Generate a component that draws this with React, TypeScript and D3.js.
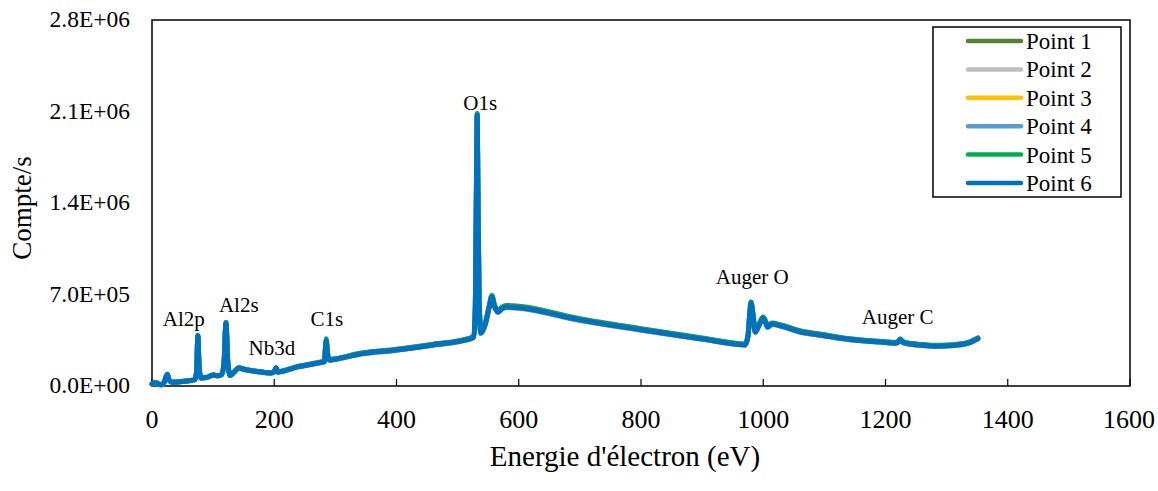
import React from "react";
import * as d3 from "d3";

// Binding energy (eV)
const energies = [
  0, 4, 8, 12, 16, 20, 25, 28, 33, 45,
  60, 70, 73, 75, 77, 80, 90, 100, 108, 114,
  118, 121, 124, 128, 135, 142, 150, 170, 195, 200,
  203, 206, 215, 240, 254, 270, 282, 285, 287, 290,
  300, 340, 400, 460, 520, 526, 529, 531, 532, 533,
  535, 538, 545, 552, 556, 560, 566, 572, 580, 600,
  700, 800, 900, 960, 970, 975, 978, 980, 983, 987,
  993, 1000, 1004, 1007, 1014, 1030, 1060, 1100, 1126, 1150,
  1200, 1215, 1220, 1224, 1228, 1235, 1260, 1280, 1310, 1335,
  1351,
];

// Counts per second, in thousands
const point1 = [
  16, 26, 23, 13, 11, 31, 90, 46, 29, 33,
  41, 49, 112, 388, 152, 63, 67, 86, 79, 89,
  192, 488, 182, 81, 111, 140, 130, 114, 102, 112,
  140, 108, 117, 151, 163, 178, 190, 350, 255, 203,
  209, 250, 281, 320, 367, 382, 610, 1665, 2075, 1595,
  712, 412, 478, 620, 692, 626, 576, 601, 616, 610,
  515, 439, 367, 324, 320, 386, 558, 642, 558, 420,
  472, 528, 493, 459, 482, 466, 423, 392, 372, 358,
  339, 334, 339, 360, 342, 331, 318, 311, 316, 334,
  368,
];
const point2 = [
  14, 24, 21, 11, 9, 29, 86, 44, 27, 31,
  39, 47, 108, 378, 148, 61, 65, 84, 77, 87,
  187, 476, 178, 79, 109, 136, 126, 110, 99, 108,
  136, 105, 113, 146, 158, 173, 184, 338, 247, 197,
  203, 242, 272, 311, 356, 371, 594, 1640, 2060, 1570,
  694, 401, 466, 605, 676, 610, 561, 585, 599, 593,
  500, 426, 357, 315, 311, 376, 545, 630, 545, 409,
  461, 516, 481, 447, 470, 454, 411, 382, 362, 349,
  330, 325, 330, 351, 333, 322, 309, 302, 307, 325,
  359,
];
const point3 = [
  15, 25, 22, 12, 10, 30, 87, 45, 28, 32,
  40, 48, 109, 380, 149, 62, 66, 85, 78, 88,
  189, 479, 179, 80, 110, 137, 127, 111, 100, 109,
  137, 106, 114, 147, 159, 174, 185, 341, 249, 198,
  204, 244, 274, 313, 358, 373, 597, 1645, 2065, 1575,
  697, 403, 468, 608, 679, 613, 564, 588, 602, 596,
  503, 428, 359, 317, 313, 378, 548, 633, 548, 411,
  463, 518, 483, 449, 472, 456, 413, 384, 364, 351,
  332, 327, 332, 353, 335, 324, 311, 304, 309, 327,
  361,
];
const point4 = [
  15, 25, 22, 12, 10, 30, 88, 45, 28, 32,
  40, 48, 110, 381, 150, 62, 66, 85, 78, 88,
  190, 480, 180, 80, 110, 138, 128, 112, 100, 110,
  138, 106, 115, 148, 160, 175, 186, 342, 250, 199,
  205, 245, 275, 314, 360, 375, 598, 1648, 2068, 1578,
  699, 404, 469, 609, 680, 614, 565, 589, 603, 597,
  504, 429, 360, 318, 314, 379, 549, 634, 549, 412,
  464, 519, 484, 450, 473, 457, 414, 385, 365, 352,
  333, 328, 333, 354, 336, 325, 312, 305, 310, 328,
  362,
];
const point5 = [
  16, 25, 22, 12, 10, 31, 89, 45, 28, 32,
  40, 48, 111, 385, 151, 62, 66, 85, 78, 88,
  191, 484, 181, 80, 110, 139, 129, 113, 101, 111,
  139, 107, 116, 150, 162, 177, 188, 362, 258, 201,
  207, 248, 278, 317, 364, 379, 605, 1660, 2085, 1590,
  706, 409, 474, 615, 688, 621, 571, 596, 610, 604,
  510, 435, 364, 322, 318, 384, 556, 640, 556, 418,
  470, 525, 490, 456, 479, 463, 420, 390, 370, 356,
  337, 332, 337, 360, 340, 329, 316, 309, 314, 332,
  366,
];
const point6 = [
  15, 25, 22, 12, 10, 30, 88, 45, 28, 32,
  40, 48, 110, 383, 150, 62, 66, 85, 78, 88,
  190, 482, 180, 80, 110, 138, 128, 112, 100, 110,
  138, 106, 115, 148, 160, 175, 186, 344, 250, 199,
  205, 245, 275, 314, 360, 375, 600, 1650, 2070, 1580,
  700, 405, 470, 610, 681, 615, 566, 590, 604, 598,
  505, 430, 360, 318, 314, 380, 550, 635, 550, 413,
  465, 520, 485, 451, 474, 458, 415, 385, 365, 352,
  333, 328, 333, 355, 336, 325, 312, 305, 310, 328,
  362,
];

const seriesNames = ["Point 1", "Point 2", "Point 3", "Point 4", "Point 5", "Point 6"];
const seriesValues = [point1, point2, point3, point4, point5, point6];
const seriesColors = ["#548235", "#BFBFBF", "#FFC000", "#5B9BD5", "#00B050", "#0070C0"];

const xTicks = [0, 200, 400, 600, 800, 1000, 1200, 1400, 1600];
const yTicks = [0, 700000, 1400000, 2100000, 2800000];
const yTickLabels = ["0.0E+00", "7.0E+05", "1.4E+06", "2.1E+06", "2.8E+06"];

// Peak annotations: label, energy (eV) and count level (baseline of the label)
const peakLabels = ["Al2p", "Al2s", "Nb3d", "C1s", "O1s", "Auger O", "Auger C"];
const peakEnergies = [52, 142, 196, 286, 537, 982, 1220];
const peakLabelCounts = [459000, 566000, 237000, 459000, 2111000, 780000, 474000];

const FONT = "Liberation Serif, Times New Roman, serif";

export default function App() {
  const left = 152, right = 1130, top = 20, bottom = 386;
  const x = d3.scaleLinear().domain([0, 1600]).range([left, right]);
  const y = d3.scaleLinear().domain([0, 2800000]).range([bottom, top]);

  const line = d3
    .line<[number, number]>()
    .x((d) => x(d[0]))
    .y((d) => y(d[1] * 1000))
    .curve(d3.curveMonotoneX);

  const legendX = 933, legendY = 27, legendW = 188, legendH = 170;
  const rowStart = 41, rowStep = 28.4;

  return (
    <svg
      width={1158}
      height={491}
      style={{ position: "absolute", left: 0, top: 0, background: "#fff" }}
      fontFamily={FONT}
    >
      <rect x={0} y={0} width={1158} height={491} fill="#fff" />
      {/* plot frame */}
      <rect x={left} y={top} width={right - left} height={bottom - top} fill="none" stroke="#000" strokeWidth={1.5} />
      {/* x ticks */}
      {xTicks.map((t) => (
        <g key={"xt" + t}>
          <line x1={x(t)} x2={x(t)} y1={bottom} y2={bottom - 7} stroke="#000" strokeWidth={1.2} />
          <text x={Math.min(x(t), 1129)} y={428} textAnchor="middle" fontSize={26} fill="#000" fontFamily={FONT}>
            {t}
          </text>
        </g>
      ))}
      {/* y tick labels */}
      {yTicks.map((t, i) => (
        <text key={"yt" + t} x={130} y={y(t) + 7} textAnchor="end" fontSize={23.5} fill="#000" fontFamily={FONT}>
          {yTickLabels[i]}
        </text>
      ))}
      {/* axis titles */}
      <text x={625} y={466} textAnchor="middle" fontSize={29} fill="#000" fontFamily={FONT}>
        Energie d'électron (eV)
      </text>
      <text transform="translate(31,208) rotate(-90)" textAnchor="middle" fontSize={27} fill="#000" fontFamily={FONT}>
        Compte/s
      </text>
      {/* series */}
      {seriesValues.map((vals, i) => (
        <path
          key={seriesNames[i]}
          d={line(energies.map((e, j) => [e, vals[j]] as [number, number])) || ""}
          fill="none"
          stroke={seriesColors[i]}
          strokeWidth={5}
          strokeLinejoin="round"
          strokeLinecap="round"
        />
      ))}
      {/* peak annotations */}
      {peakLabels.map((lab, i) => (
        <text
          key={lab}
          x={x(peakEnergies[i])}
          y={y(peakLabelCounts[i])}
          textAnchor="middle"
          fontSize={21}
          fill="#000"
          fontFamily={FONT}
        >
          {lab}
        </text>
      ))}
      {/* legend */}
      <rect x={legendX} y={legendY} width={legendW} height={legendH} fill="#fff" stroke="#000" strokeWidth={1.5} />
      {seriesNames.map((name, i) => (
        <g key={"lg" + name}>
          <line
            x1={968}
            x2={1021}
            y1={rowStart + i * rowStep}
            y2={rowStart + i * rowStep}
            stroke={seriesColors[i]}
            strokeWidth={4.5}
            strokeLinecap="round"
          />
          <text x={1026} y={rowStart + i * rowStep + 8} fontSize={23} fill="#000" fontFamily={FONT}>
            {name}
          </text>
        </g>
      ))}
    </svg>
  );
}
